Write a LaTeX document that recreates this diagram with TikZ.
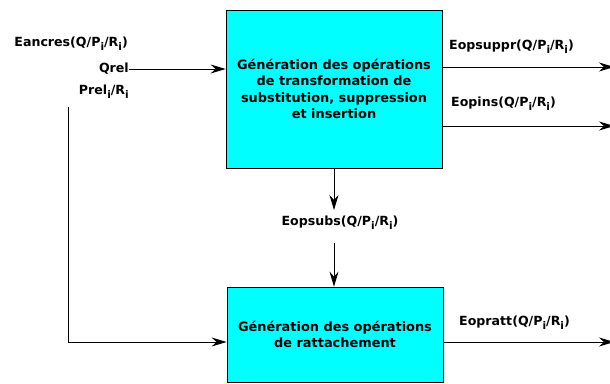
\documentclass[tikz,border=0pt]{standalone}
\usepackage{fontspec}
\setmainfont{DejaVu Sans}
\usetikzlibrary{arrows.meta}
\definecolor{cyanbloc}{RGB}{0,255,255}
\tikzset{
	bloc/.style={draw=black, fill=cyanbloc, line width=0.8pt, align=center, inner sep=0pt, font=\bfseries\fontsize{12.9}{16.2}\selectfont},
	lbl/.style={inner sep=0pt, font=\bfseries\fontsize{12.6}{15.8}\selectfont},
	fl/.style={line width=0.9pt, -{Stealth[length=15pt, width=9pt, inset=5pt]}}
}
\newcommand{\ind}{\raisebox{-0.6ex}{\fontsize{10.5}{10.5}\selectfont i}}

\begin{document}
\begin{tikzpicture}[x=1pt, y=-1pt]
			%%%%% START %%%%%
			
			\useasboundingbox (0, 0) rectangle (610, 383);
			
			\node[bloc, minimum width=216pt, minimum height=158pt] (haut) at (334, 89) {Génération des opérations\\de transformation de\\substitution, suppression\\et insertion};
			\node[bloc, minimum width=216pt, minimum height=95pt] (bas) at (335, 334.5) {Génération des opérations\\de rattachement};
			
			\node[lbl, anchor=east] (eancres) at (128, 44) {Eancres(Q/P\ind/R\ind)};
			\node[lbl, anchor=east] (qrel) at (129, 69) {Qrel};
			\node[lbl, anchor=east] (prel) at (129, 92) {Prel\ind/R\ind};
			
			\node[lbl, anchor=west] (suppr) at (449, 47) {Eopsuppr(Q/P\ind/R\ind)};
			\node[lbl, anchor=west] (ins) at (451, 104) {Eopins(Q/P\ind/R\ind)};
			\node[lbl] (subs) at (340, 223) {Eopsubs(Q/P\ind/R\ind)};
			\node[lbl, anchor=west] (ratt) at (459, 323) {Eopratt(Q/P\ind/R\ind)};
			
			\coordinate (p0) at (68, 107);
			\coordinate (p1) at (68, 342);
			\coordinate (s1) at (614, 67);
			\coordinate (s2) at (614, 126);
			\coordinate (s3) at (614, 342);
			\coordinate (c1) at (334, 210);
			\coordinate (c2) at (334, 243);
			
			\draw[fl] (qrel.east) -- (qrel.east -| haut.west);
			\draw[fl] (p0) -- (p1) -- (p1 -| bas.west);
			
			\draw[fl] (s1 -| haut.east) -- (s1);
			\draw[fl] (s2 -| haut.east) -- (s2);
			\draw[fl] (s3 -| bas.east) -- (s3);
			
			\draw[fl] (haut.south) -- (c1);
			\draw[fl] (c2) -- (c2 |- bas.north);
			
			%%%%% END %%%%%
\end{tikzpicture}
\end{document}
